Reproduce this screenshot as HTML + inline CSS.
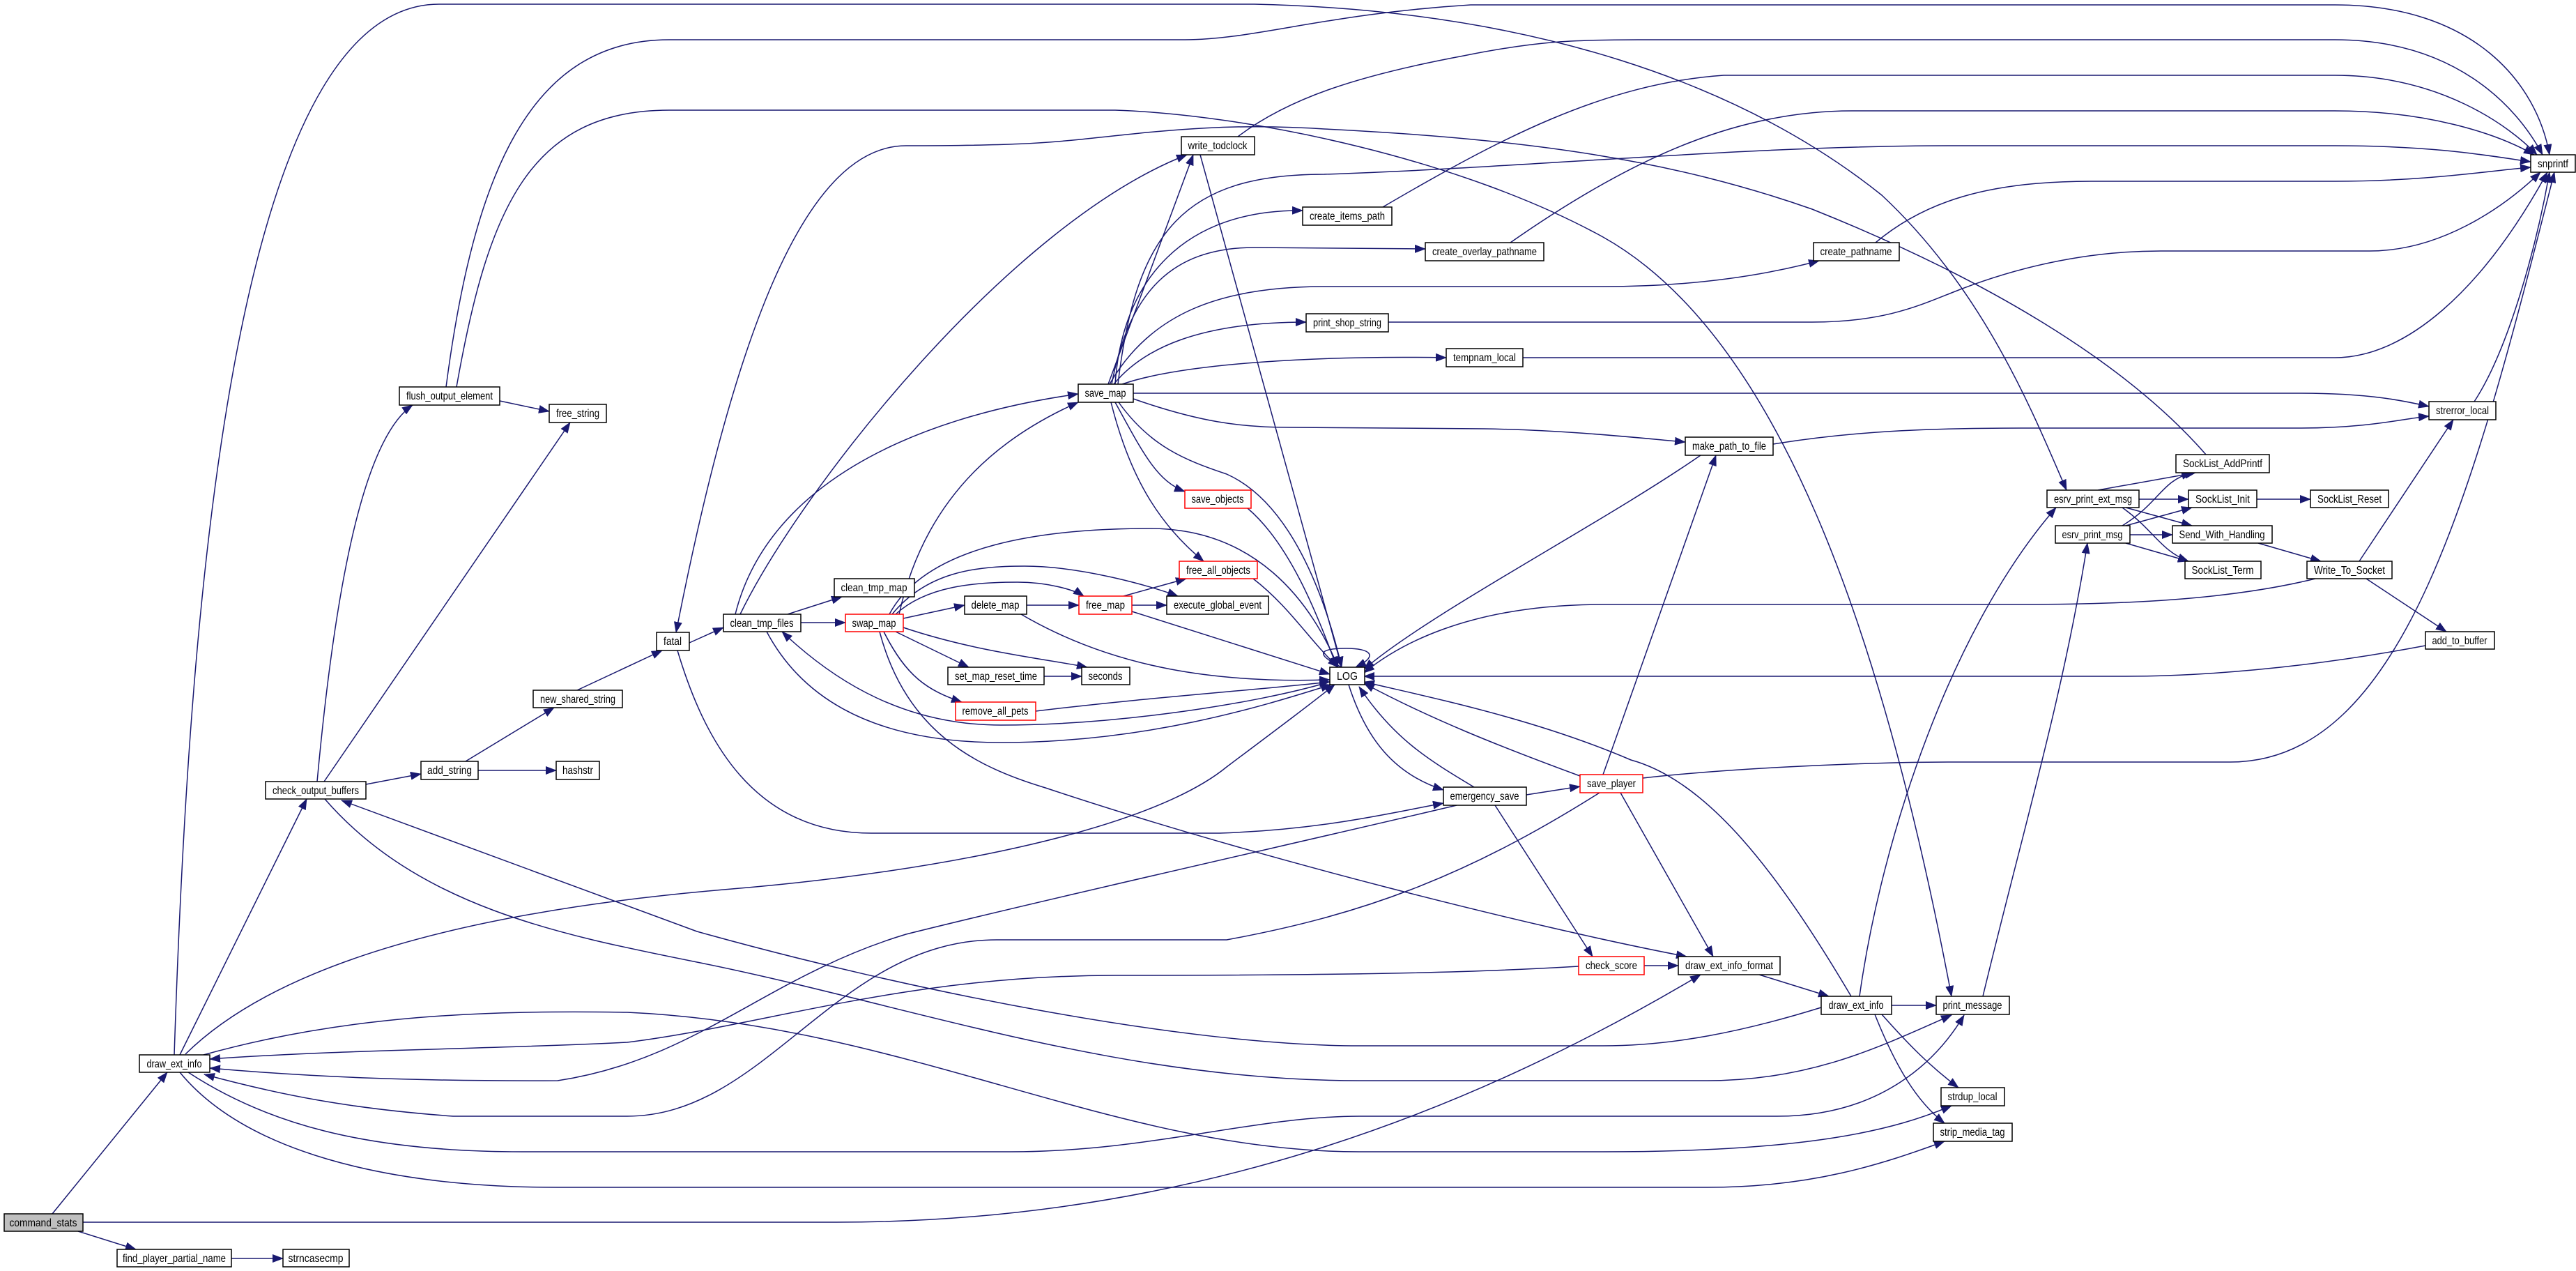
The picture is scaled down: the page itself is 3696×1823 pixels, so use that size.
<!DOCTYPE html>
<html><head><meta charset="utf-8"><style>
html,body{margin:0;padding:0;background:#fff;}
svg{display:block;}
text{font-family:"Liberation Sans",sans-serif;font-size:16px;fill:#000;text-anchor:middle;}
.e{fill:none;stroke:#191970;stroke-width:1.5;}
.n{fill:#fff;stroke:#000;stroke-width:1.5;}
.r{fill:#fff;stroke:#ff0000;stroke-width:1.5;}
</style></head><body>
<svg width="3696" height="1823" viewBox="0 0 3696 1823" xmlns="http://www.w3.org/2000/svg">
<defs><marker id="a" markerUnits="userSpaceOnUse" markerWidth="16" markerHeight="12" refX="15" refY="6" orient="auto"><path d="M0,0 L16,6 L0,12 z" fill="#191970"/></marker></defs>
<g class="e" marker-end="url(#a)">
<path d="M75,1741 L240,1538"/>
<path d="M112,1766 L195,1792"/>
<path d="M332,1805 L406,1805"/>
<path d="M119,1753 L1200,1753 C1700,1753 2100,1600 2440,1398"/>
<path d="M258,1513 L440,1146"/>
<path d="M266,1512 C420,1360 750,1300 1050,1275 C1350,1250 1650,1190 1760,1100 C1840,1040 1880,1010 1915,982"/>
<path d="M292,1513 C500,1455 700,1449 900,1452 C1300,1470 1600,1652 1950,1652 L2300,1652 C2600,1652 2720,1620 2800,1586"/>
<path d="M2265,1386 C2100,1396 1900,1399 1600,1399 C1300,1399 1100,1470 900,1495 C700,1505 500,1505 301,1519"/>
<path d="M2090,1155 C1900,1200 1500,1290 1300,1340 C1100,1400 1000,1520 800,1550 C600,1551 450,1545 301,1532"/>
<path d="M2295,1137 C2100,1260 1950,1313 1760,1348 L1430,1348 C1200,1348 1100,1601 900,1601 L650,1601 C500,1590 400,1570 293,1541"/>
<path d="M270,1538 C380,1610 520,1652 750,1652 L1450,1652 C1650,1652 1800,1601 1950,1601 L2550,1601 C2700,1601 2780,1520 2818,1456"/>
<path d="M258,1538 C350,1650 550,1703 800,1703 L2450,1703 C2600,1703 2700,1670 2790,1637"/>
<path d="M466,1146 C600,1300 800,1340 1000,1380 C1300,1440 1600,1550 1950,1550 L2450,1550 C2600,1550 2700,1500 2800,1456"/>
<path d="M2613,1445 C2500,1480 2400,1500 2300,1500 L1950,1500 C1700,1500 1300,1420 1000,1336 L490,1148"/>
<path d="M525,1125 L604,1110"/>
<path d="M686,1105 L798,1105"/>
<path d="M668,1092 L795,1015"/>
<path d="M828,990 L950,933"/>
<path d="M455,1121 C480,850 520,630 592,581"/>
<path d="M465,1121 L818,606"/>
<path d="M717,575 L788,590"/>
<path d="M640,555 C680,250 760,57 960,57 L1700,57 C1800,57 1900,20 2110,7 L3350,7 C3550,7 3640,120 3658,222"/>
<path d="M655,555 C700,300 760,158 960,158 L1600,158 C1800,165 2100,230 2300,340 C2550,480 2700,900 2800,1429"/>
<path d="M250,1513 C270,900 330,6 630,6 L1800,6 C2200,15 2500,120 2700,280 C2850,420 2920,600 2965,703"/>
<path d="M3165,652 C3050,520 2850,400 2600,300 C2400,230 2200,200 1900,185 C1750,175 1650,190 1550,200 C1500,205 1450,209 1300,209 C1150,209 1050,500 970,907"/>
<path d="M1590,551 L1712,222"/>
<path d="M1776,196 C1850,140 1950,108 2100,80 C2200,60 2250,57 2350,57 L3350,57 C3520,57 3610,150 3648,222"/>
<path d="M1722,222 L1925,957"/>
<path d="M1600,551 C1610,400 1700,300 1869,302"/>
<path d="M1595,551 C1620,420 1680,355 1800,355 L2045,357"/>
<path d="M1592,551 C1650,450 1750,411 1900,411 L2300,411 C2450,411 2550,390 2610,374"/>
<path d="M1598,551 C1640,500 1720,462 1874,462"/>
<path d="M1610,551 C1700,520 1900,510 2075,513"/>
<path d="M1604,551 C1630,330 1700,250 1900,250 C2200,240 2500,209 2800,209 L3350,209 C3500,209 3580,225 3631,232"/>
<path d="M1626,564 L3300,564 C3400,564 3450,575 3485,583"/>
<path d="M2544,637 C2650,620 2750,614 2900,614 L3300,614 C3400,614 3450,600 3485,597"/>
<path d="M1626,572 C1720,605 1780,613 1850,613 L2130,615 C2250,617 2350,628 2418,634"/>
<path d="M1605,577 C1650,640 1700,660 1760,680 C1850,720 1900,850 1925,957"/>
<path d="M1600,577 C1640,650 1660,690 1700,705"/>
<path d="M1594,577 C1620,680 1660,750 1727,805"/>
<path d="M1055,881 C1100,700 1300,600 1547,565"/>
<path d="M1290,881 C1330,700 1450,620 1547,577"/>
<path d="M1062,881 C1150,700 1450,320 1703,222"/>
<path d="M989,922 L1038,900"/>
<path d="M1130,881 L1208,856"/>
<path d="M1149,893 L1213,893"/>
<path d="M1100,906 C1150,1000 1250,1065 1436,1065 C1650,1065 1820,1010 1910,982"/>
<path d="M1908,978 C1800,1010 1600,1040 1436,1040 C1300,1040 1200,980 1122,906"/>
<path d="M1276,881 C1330,780 1500,758 1650,758 C1800,758 1880,860 1920,957"/>
<path d="M1280,881 C1330,820 1400,812 1470,812 C1550,812 1650,840 1690,855"/>
<path d="M1285,881 C1330,840 1400,835 1460,835 C1500,835 1540,845 1555,855"/>
<path d="M1296,887 L1384,868"/>
<path d="M1285,906 L1390,957"/>
<path d="M1296,900 C1400,935 1500,945 1560,957"/>
<path d="M1268,906 C1300,970 1330,990 1380,1007"/>
<path d="M1262,906 C1300,1050 1400,1100 1500,1130 C1800,1230 2200,1330 2420,1372"/>
<path d="M1473,868 L1548,868"/>
<path d="M1465,881 C1600,960 1750,980 1908,975"/>
<path d="M1624,868 L1674,868"/>
<path d="M1612,855 L1702,830"/>
<path d="M1624,877 L1908,967"/>
<path d="M1798,830 C1850,870 1880,920 1920,957"/>
<path d="M1790,729 C1850,780 1890,880 1918,957"/>
<path d="M1498,970 L1552,970"/>
<path d="M1486,1020 C1650,1000 1800,990 1908,978"/>
<path d="M1925,957 C1880,935 1900,930 1932,930 C1965,930 1980,940 1945,957"/>
<path d="M1935,982 C1960,1060 2000,1110 2071,1133"/>
<path d="M2115,1129 C2050,1090 2000,1060 1950,985"/>
<path d="M2190,1140 L2267,1128"/>
<path d="M2267,1113 C2150,1070 2050,1030 1957,980"/>
<path d="M2300,1111 L2462,653"/>
<path d="M2440,653 C2300,750 2050,880 1957,960"/>
<path d="M2325,1137 L2458,1372"/>
<path d="M2357,1116 C2500,1100 2700,1093 2800,1093 L3200,1093 C3450,1093 3550,700 3665,247"/>
<path d="M1992,462 L2600,462 C2700,462 2750,440 2800,420 C2900,380 3000,360 3100,360 L3400,360 C3500,360 3590,300 3645,247"/>
<path d="M2185,513 L3350,513 C3450,513 3560,420 3655,247"/>
<path d="M1984,297 C2150,200 2300,120 2473,108 L3350,108 C3500,108 3600,180 3640,222"/>
<path d="M2167,348 C2350,220 2500,159 2657,159 L3350,159 C3480,159 3580,190 3636,222"/>
<path d="M2691,348 C2760,290 2850,260 3000,260 L3350,260 C3480,260 3570,245 3631,240"/>
<path d="M972,933 C1010,1060 1080,1195 1250,1195 L1750,1195 C1900,1190 2000,1165 2071,1152"/>
<path d="M2845,1429 C2900,1200 2960,1000 2995,779"/>
<path d="M2668,1429 C2700,1200 2800,900 2950,728"/>
<path d="M2714,1442 L2778,1442"/>
<path d="M2690,1455 C2720,1530 2750,1580 2790,1611"/>
<path d="M2700,1455 C2740,1500 2770,1530 2810,1560"/>
<path d="M2656,1429 C2550,1250 2450,1120 2340,1090 C2200,1030 2050,1000 1957,978"/>
<path d="M2524,1398 L2624,1429"/>
<path d="M2359,1385 L2408,1385"/>
<path d="M2145,1155 L2285,1372"/>
<path d="M3010,703 L3150,678"/>
<path d="M3069,716 L3140,716"/>
<path d="M3050,728 L3145,754"/>
<path d="M3045,728 C3090,760 3100,790 3140,805"/>
<path d="M3045,754 C3100,720 3100,690 3145,678"/>
<path d="M3050,754 L3145,728"/>
<path d="M3056,767 L3117,767"/>
<path d="M3050,779 L3140,805"/>
<path d="M3238,716 L3315,716"/>
<path d="M3240,779 L3330,805"/>
<path d="M3385,805 L3520,602"/>
<path d="M3395,830 L3510,906"/>
<path d="M3322,830 C3200,860 3050,867 2900,867 L2300,867 C2100,867 2000,930 1957,965"/>
<path d="M3480,926 C3300,960 3150,970 3050,970 L1957,970"/>
<path d="M3550,576 C3600,500 3640,350 3658,247"/>
</g>
<g>
<rect class="n" x="6" y="1741" width="113" height="25" style="fill:#bfbfbf"/><text x="62" y="1759" textLength="97" lengthAdjust="spacingAndGlyphs">command_stats</text>
<rect class="n" x="168" y="1792" width="164" height="25"/><text x="250" y="1810" textLength="148" lengthAdjust="spacingAndGlyphs">find_player_partial_name</text>
<rect class="n" x="406" y="1792" width="95" height="25"/><text x="453" y="1810" textLength="79" lengthAdjust="spacingAndGlyphs">strncasecmp</text>
<rect class="n" x="200" y="1513" width="101" height="25"/><text x="250" y="1531" textLength="79" lengthAdjust="spacingAndGlyphs">draw_ext_info</text>
<rect class="n" x="381" y="1121" width="144" height="25"/><text x="453" y="1139" textLength="124" lengthAdjust="spacingAndGlyphs">check_output_buffers</text>
<rect class="n" x="604" y="1092" width="82" height="26"/><text x="645" y="1110" textLength="64" lengthAdjust="spacingAndGlyphs">add_string</text>
<rect class="n" x="798" y="1092" width="62" height="26"/><text x="829" y="1110" textLength="44" lengthAdjust="spacingAndGlyphs">hashstr</text>
<rect class="n" x="765" y="990" width="128" height="25"/><text x="829" y="1008" textLength="108" lengthAdjust="spacingAndGlyphs">new_shared_string</text>
<rect class="n" x="573" y="555" width="144" height="26"/><text x="645" y="573" textLength="124" lengthAdjust="spacingAndGlyphs">flush_output_element</text>
<rect class="n" x="788" y="580" width="82" height="26"/><text x="829" y="598" textLength="62" lengthAdjust="spacingAndGlyphs">free_string</text>
<rect class="n" x="942" y="907" width="47" height="26"/><text x="965" y="925" textLength="26" lengthAdjust="spacingAndGlyphs">fatal</text>
<rect class="n" x="1038" y="881" width="111" height="25"/><text x="1093" y="899" textLength="91" lengthAdjust="spacingAndGlyphs">clean_tmp_files</text>
<rect class="n" x="1197" y="830" width="115" height="26"/><text x="1254" y="848" textLength="95" lengthAdjust="spacingAndGlyphs">clean_tmp_map</text>
<rect class="r" x="1213" y="881" width="83" height="25"/><text x="1254" y="899" textLength="63" lengthAdjust="spacingAndGlyphs">swap_map</text>
<rect class="n" x="1384" y="855" width="89" height="26"/><text x="1428" y="873" textLength="69" lengthAdjust="spacingAndGlyphs">delete_map</text>
<rect class="r" x="1548" y="855" width="76" height="26"/><text x="1586" y="873" textLength="56" lengthAdjust="spacingAndGlyphs">free_map</text>
<rect class="n" x="1674" y="855" width="146" height="26"/><text x="1747" y="873" textLength="126" lengthAdjust="spacingAndGlyphs">execute_global_event</text>
<rect class="r" x="1692" y="805" width="112" height="25"/><text x="1748" y="823" textLength="92" lengthAdjust="spacingAndGlyphs">free_all_objects</text>
<rect class="r" x="1700" y="703" width="95" height="26"/><text x="1747" y="721" textLength="75" lengthAdjust="spacingAndGlyphs">save_objects</text>
<rect class="n" x="1360" y="957" width="138" height="25"/><text x="1429" y="975" textLength="118" lengthAdjust="spacingAndGlyphs">set_map_reset_time</text>
<rect class="n" x="1552" y="957" width="69" height="25"/><text x="1586" y="975" textLength="49" lengthAdjust="spacingAndGlyphs">seconds</text>
<rect class="r" x="1371" y="1007" width="115" height="26"/><text x="1428" y="1025" textLength="95" lengthAdjust="spacingAndGlyphs">remove_all_pets</text>
<rect class="n" x="1908" y="957" width="50" height="25"/><text x="1933" y="975" textLength="30" lengthAdjust="spacingAndGlyphs">LOG</text>
<rect class="n" x="1547" y="551" width="79" height="26"/><text x="1586" y="569" textLength="59" lengthAdjust="spacingAndGlyphs">save_map</text>
<rect class="n" x="1695" y="196" width="105" height="26"/><text x="1747" y="214" textLength="85" lengthAdjust="spacingAndGlyphs">write_todclock</text>
<rect class="n" x="1869" y="297" width="128" height="26"/><text x="1933" y="315" textLength="108" lengthAdjust="spacingAndGlyphs">create_items_path</text>
<rect class="n" x="2045" y="348" width="170" height="26"/><text x="2130" y="366" textLength="150" lengthAdjust="spacingAndGlyphs">create_overlay_pathname</text>
<rect class="n" x="2602" y="348" width="123" height="26"/><text x="2663" y="366" textLength="103" lengthAdjust="spacingAndGlyphs">create_pathname</text>
<rect class="n" x="1874" y="450" width="118" height="26"/><text x="1933" y="468" textLength="98" lengthAdjust="spacingAndGlyphs">print_shop_string</text>
<rect class="n" x="2075" y="500" width="110" height="26"/><text x="2130" y="518" textLength="90" lengthAdjust="spacingAndGlyphs">tempnam_local</text>
<rect class="n" x="2418" y="627" width="126" height="26"/><text x="2481" y="645" textLength="106" lengthAdjust="spacingAndGlyphs">make_path_to_file</text>
<rect class="n" x="3631" y="222" width="64" height="25"/><text x="3663" y="240" textLength="44" lengthAdjust="spacingAndGlyphs">snprintf</text>
<rect class="n" x="3485" y="576" width="96" height="26"/><text x="3533" y="594" textLength="76" lengthAdjust="spacingAndGlyphs">strerror_local</text>
<rect class="n" x="3122" y="652" width="134" height="26"/><text x="3189" y="670" textLength="114" lengthAdjust="spacingAndGlyphs">SockList_AddPrintf</text>
<rect class="n" x="2937" y="703" width="132" height="25"/><text x="3003" y="721" textLength="112" lengthAdjust="spacingAndGlyphs">esrv_print_ext_msg</text>
<rect class="n" x="3140" y="703" width="98" height="25"/><text x="3189" y="721" textLength="78" lengthAdjust="spacingAndGlyphs">SockList_Init</text>
<rect class="n" x="3315" y="703" width="112" height="25"/><text x="3371" y="721" textLength="92" lengthAdjust="spacingAndGlyphs">SockList_Reset</text>
<rect class="n" x="2949" y="754" width="107" height="25"/><text x="3002" y="772" textLength="87" lengthAdjust="spacingAndGlyphs">esrv_print_msg</text>
<rect class="n" x="3117" y="754" width="143" height="25"/><text x="3188" y="772" textLength="123" lengthAdjust="spacingAndGlyphs">Send_With_Handling</text>
<rect class="n" x="3135" y="805" width="109" height="25"/><text x="3189" y="823" textLength="89" lengthAdjust="spacingAndGlyphs">SockList_Term</text>
<rect class="n" x="3310" y="805" width="122" height="25"/><text x="3371" y="823" textLength="102" lengthAdjust="spacingAndGlyphs">Write_To_Socket</text>
<rect class="n" x="3480" y="906" width="99" height="25"/><text x="3529" y="924" textLength="79" lengthAdjust="spacingAndGlyphs">add_to_buffer</text>
<rect class="n" x="2071" y="1129" width="119" height="26"/><text x="2130" y="1147" textLength="99" lengthAdjust="spacingAndGlyphs">emergency_save</text>
<rect class="r" x="2267" y="1111" width="90" height="26"/><text x="2312" y="1129" textLength="70" lengthAdjust="spacingAndGlyphs">save_player</text>
<rect class="r" x="2265" y="1372" width="94" height="26"/><text x="2312" y="1390" textLength="74" lengthAdjust="spacingAndGlyphs">check_score</text>
<rect class="n" x="2408" y="1372" width="146" height="26"/><text x="2481" y="1390" textLength="126" lengthAdjust="spacingAndGlyphs">draw_ext_info_format</text>
<rect class="n" x="2613" y="1429" width="101" height="26"/><text x="2663" y="1447" textLength="79" lengthAdjust="spacingAndGlyphs">draw_ext_info</text>
<rect class="n" x="2778" y="1429" width="105" height="26"/><text x="2830" y="1447" textLength="85" lengthAdjust="spacingAndGlyphs">print_message</text>
<rect class="n" x="2785" y="1560" width="91" height="26"/><text x="2830" y="1578" textLength="71" lengthAdjust="spacingAndGlyphs">strdup_local</text>
<rect class="n" x="2774" y="1611" width="113" height="26"/><text x="2830" y="1629" textLength="93" lengthAdjust="spacingAndGlyphs">strip_media_tag</text>
</g>
</svg>
</body></html>
